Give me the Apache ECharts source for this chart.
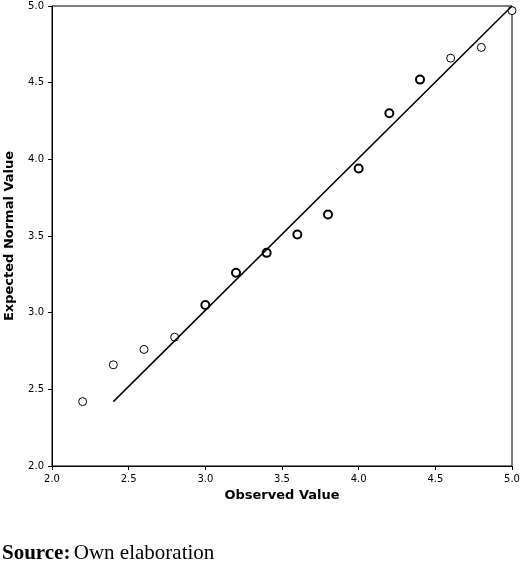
<!DOCTYPE html><html><head><meta charset="utf-8"><script src="https://cdn.jsdelivr.net/npm/echarts@6/dist/echarts.min.js"></script>
<style>body{margin:0;background:#fff}#c{width:520px;height:570px}</style></head><body><div id="c"></div><script>
const observed=[2.2,2.4,2.6,2.8,3.0,3.2,3.4,3.6,3.8,4.0,4.2,4.4,4.6,4.8,5.0];
const expected=[2.42,2.66,2.76,2.84,3.05,3.26,3.39,3.51,3.64,3.94,4.30,4.52,4.66,4.73,4.97];
const counts=[1,1,1,1,2,2,2,2,2,3,2,2,1,1,1];
const lineX=[2.4,5.0];
const lineY=[2.42,5.0];
const ticks=[2.0,2.5,3.0,3.5,4.0,4.5,5.0];
const ax={min:2,max:5,interval:0.5,axisLine:{lineStyle:{color:'#000'}},axisTick:{length:4,lineStyle:{color:'#000'}},
 splitLine:{show:false},axisLabel:{color:'#000',fontSize:10,fontFamily:'DejaVu Sans',formatter:v=>v.toFixed(1)},
 nameTextStyle:{color:'#000',fontWeight:'bold',fontSize:13,fontFamily:'DejaVu Sans'}};
const chart=echarts.init(document.getElementById('c'));
chart.setOption({animation:false,
 grid:{left:52,right:8,top:6,bottom:104,show:true,borderColor:'#000',borderWidth:1,outerBoundsMode:'none'},
 xAxis:Object.assign({},ax,{name:'Observed Value',nameLocation:'middle',nameGap:21}),
 yAxis:Object.assign({},ax,{name:'Expected Normal Value',nameLocation:'middle',nameGap:36}),
 graphic:[{type:'text',left:2,top:543,style:{rich:{b:{fontWeight:'bold',fontSize:21,fontFamily:'Liberation Serif'},n:{fontSize:21,fontFamily:'Liberation Serif'}},text:'{b|Source:} {n|Own elaboration}'}}],
 series:[
  {type:'line',data:lineX.map((x,i)=>[x,lineY[i]]),symbol:'none',lineStyle:{color:'#000',width:1.5}},
  {type:'scatter',symbol:'circle',symbolSize:8,
   data:observed.map((x,i)=>({value:[x,expected[i]],itemStyle:{borderWidth:counts[i]>1?2:1}})),
   itemStyle:{color:'#fff',borderColor:'#000',opacity:1}}
 ]});
</script></body></html>
